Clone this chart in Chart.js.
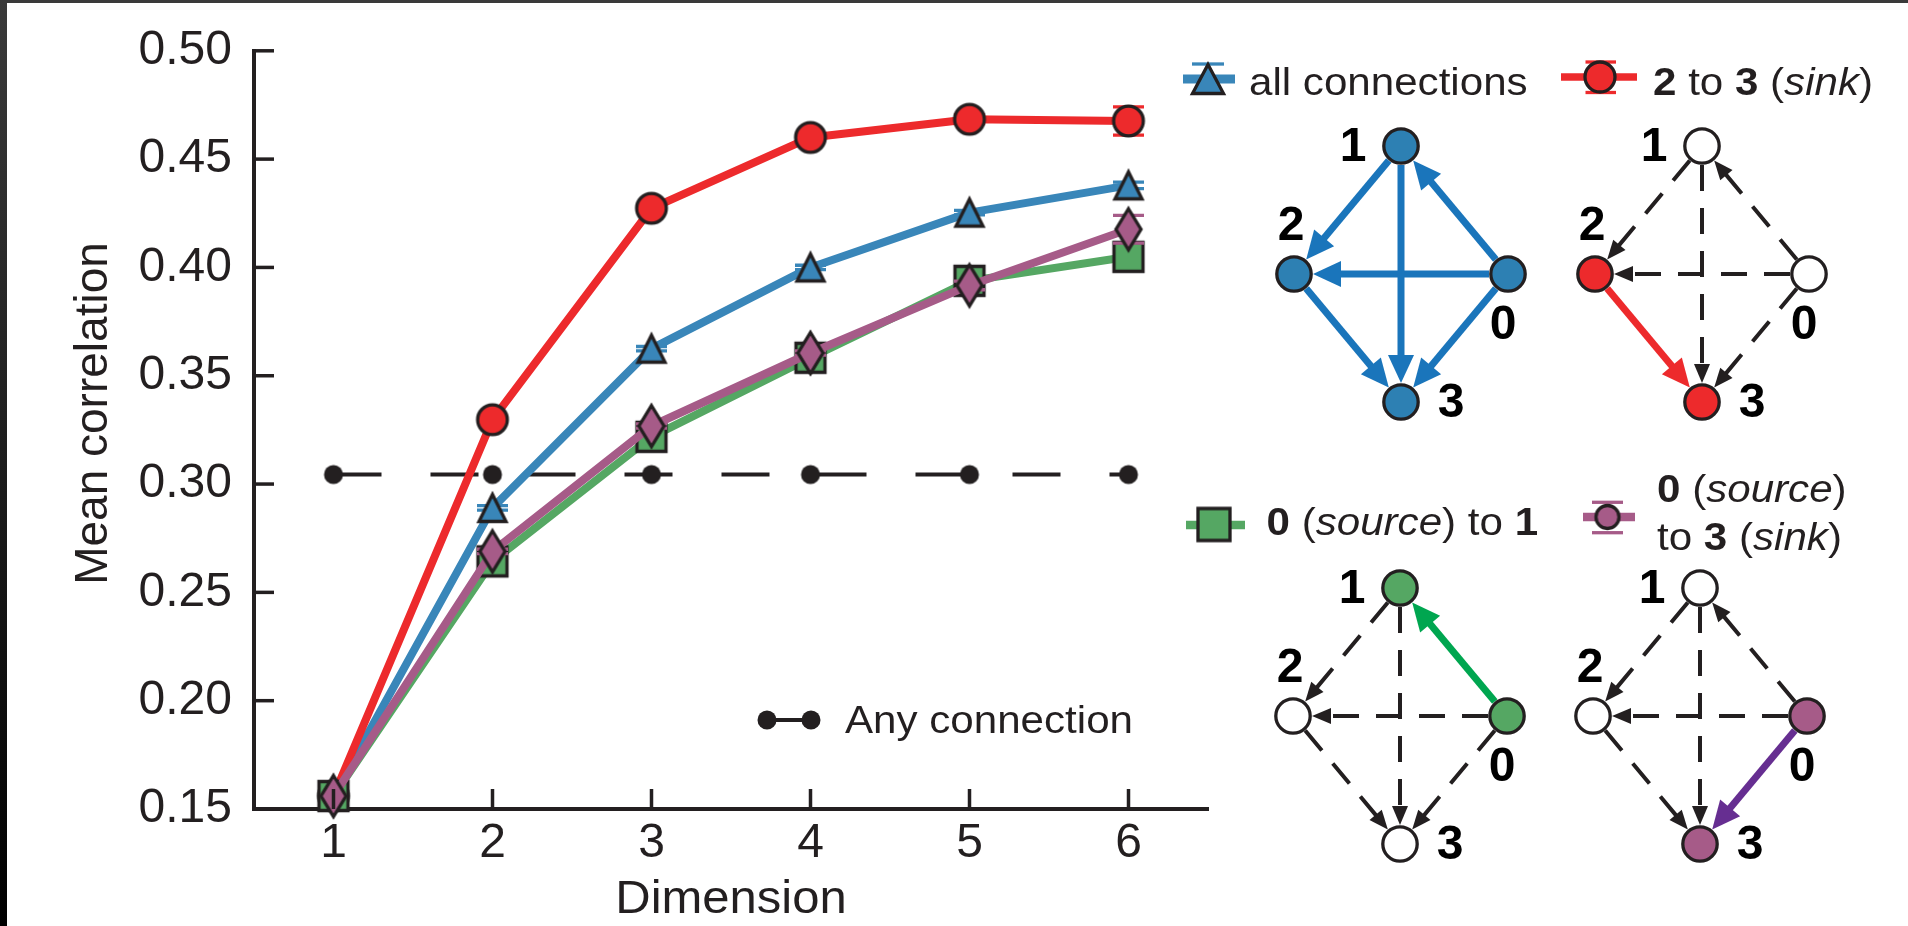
<!DOCTYPE html>
<html><head><meta charset="utf-8">
<script src="https://cdn.jsdelivr.net/npm/chart.js@4.4.1/dist/chart.umd.min.js"></script>
<style>
html,body{margin:0;padding:0;background:#fff;overflow:hidden;}
#wrap{position:relative;width:1908px;height:926px;background:#fff;}
canvas{display:block;}
#bt{position:absolute;left:0;top:0;width:1908px;height:3px;background:#3a3a3a;}
#bl{position:absolute;left:0;top:0;width:7px;height:926px;background:linear-gradient(#3a3a3a,#000);}
</style></head><body>
<div id="wrap"><canvas id="c" width="1908" height="926"></canvas><div id="bt"></div><div id="bl"></div></div>
<script>
// ---------------- data ----------------
const dimensions = [1, 2, 3, 4, 5, 6];
const allConnections = [0.156, 0.289, 0.3625, 0.400, 0.4253, 0.4379];
const allConnectionsErr = [0, 0.001, 0.001, 0.001, 0.001, 0.0015];
const sink23 = [0.156, 0.3297, 0.4273, 0.460, 0.4684, 0.4676];
const sink23Err = [0, 0.001, 0.001, 0.001, 0.002, 0.0065];
const source01 = [0.156, 0.2643, 0.3218, 0.3583, 0.3938, 0.4049];
const source01Err = [0, 0.001, 0.001, 0.001, 0.001, 0.002];
const source03 = [0.156, 0.2689, 0.3268, 0.3605, 0.3917, 0.4176];
const source03Err = [0, 0.001, 0.001, 0.001, 0.002, 0.0064];
const anyConnection = [0.3044, 0.3044, 0.3044, 0.3044, 0.3044, 0.3044];
const xTickValues = [1, 2, 3, 4, 5, 6];
const xTickLabels = ['1', '2', '3', '4', '5', '6'];
const yTickValues = [0.15, 0.20, 0.25, 0.30, 0.35, 0.40, 0.45, 0.50];
const yTickLabels = ['0.15', '0.20', '0.25', '0.30', '0.35', '0.40', '0.45', '0.50'];
const xTitle = 'Dimension';
const yTitle = 'Mean correlation';

// ---------------- styles ----------------
const FONT = '"Liberation Sans", Arial, Helvetica, sans-serif';
const INK = '#231f20';
const BLUE = '#3986b9', RED = '#ed2a2c', GREEN = '#55a763', PURPLE = '#a65b88';
const NODE_BLUE = '#2d80b3', EDGE_BLUE = '#1a75bb', EDGE_GREEN = '#00a650', EDGE_PURPLE = '#662e91';
const TEXT_STRETCH = 1.08;

function makeMarker(w, h, fn) {
  const c = document.createElement('canvas');
  c.width = w; c.height = h;
  const g = c.getContext('2d');
  g.translate(w / 2, h / 2);
  fn(g);
  return c;
}
function circleM(d, fill, lw) {
  return makeMarker(48, 48, g => {
    g.beginPath(); g.arc(0, 0, d / 2, 0, Math.PI * 2);
    g.fillStyle = fill; g.fill();
    g.lineWidth = lw; g.strokeStyle = INK; g.stroke();
  });
}
function polyM(pts, fill, lw, size) {
  return makeMarker(size, size, g => {
    g.beginPath(); pts.forEach((p, i) => i ? g.lineTo(p[0], p[1]) : g.moveTo(p[0], p[1]));
    g.closePath(); g.fillStyle = fill; g.fill();
    g.lineJoin = 'miter'; g.miterLimit = 10; g.lineWidth = lw; g.strokeStyle = INK; g.stroke();
  });
}
const triM = (w, h) => polyM([[0, -h / 2], [w / 2, h / 2], [-w / 2, h / 2]], BLUE, 3.3, 56);
const sqM = s => polyM([[-s / 2, -s / 2], [s / 2, -s / 2], [s / 2, s / 2], [-s / 2, s / 2]], GREEN, 3.3, 56);
const diaM = (w, h) => polyM([[0, -h / 2], [w / 2, 0], [0, h / 2], [-w / 2, 0]], PURPLE, 3.3, 60);
const dotM = makeMarker(24, 24, g => { g.beginPath(); g.arc(0, 0, 9.5, 0, Math.PI * 2); g.fillStyle = INK; g.fill(); });

const markerTri = triM(27, 27), markerCircle = circleM(29.7, RED, 3.3), markerSq = sqM(29), markerDia = diaM(25, 41);
const legTri = triM(31, 29), legCircle = circleM(30, RED, 3.3), legSq = sqM(32), legPurple = circleM(23, PURPLE, 3.3);

function series(label, vals, errs, color, marker, order, extra) {
  return Object.assign({
    label, data: dimensions.map((d, i) => ({ x: d, y: vals[i] })), errors: errs,
    borderColor: color, backgroundColor: color, borderWidth: 8, borderJoinStyle: 'round',
    pointStyle: marker, pointRadius: 16, tension: 0, clip: false, order
  }, extra || {});
}

// ---------------- plugins ----------------
const errorBars = {
  id: 'errorBars',
  beforeDatasetDraw(chart, args) {
    const ds = chart.data.datasets[args.index];
    if (!ds.errors) return;
    const xs = chart.scales.x, ys = chart.scales.y, g = chart.ctx;
    g.save(); g.strokeStyle = ds.borderColor; g.lineWidth = 3.3; g.setLineDash([]);
    ds.data.forEach((p, i) => {
      const e = ds.errors[i]; if (!e) return;
      const px = xs.getPixelForValue(p.x), y1 = ys.getPixelForValue(p.y + e), y2 = ys.getPixelForValue(p.y - e);
      g.beginPath();
      g.moveTo(px - 15.5, y1); g.lineTo(px + 15.5, y1);
      g.moveTo(px - 15.5, y2); g.lineTo(px + 15.5, y2);
      g.moveTo(px, y1); g.lineTo(px, y2);
      g.stroke();
    });
    g.restore();
  }
};

function rich(g, x, y, parts, size, sx) {
  g.save(); g.translate(x, y); g.scale(sx || TEXT_STRETCH, 1);
  let cx = 0;
  parts.forEach(([t, s]) => {
    g.font = (s === 'b' ? 'bold ' : s === 'i' ? 'italic ' : '') + size + 'px ' + FONT;
    g.fillText(t, cx, 0); cx += g.measureText(t).width;
  });
  g.restore();
}

const axisExtras = {
  id: 'axisExtras',
  afterDatasetsDraw(chart) {
    const g = chart.ctx, xs = chart.scales.x, ys = chart.scales.y, a = chart.chartArea;
    g.save(); g.strokeStyle = INK; g.lineWidth = 3.5; g.setLineDash([]);
    xTickValues.forEach(v => { const px = xs.getPixelForValue(v); g.beginPath(); g.moveTo(px, a.bottom); g.lineTo(px, a.bottom - 20); g.stroke(); });
    yTickValues.forEach(v => { const py = ys.getPixelForValue(v); g.beginPath(); g.moveTo(a.left, py); g.lineTo(a.left + 20, py); g.stroke(); });
    g.fillStyle = INK; g.textAlign = 'center'; g.textBaseline = 'alphabetic';
    g.font = '46px ' + FONT;
    g.save(); g.translate(107, 413.5); g.rotate(-Math.PI / 2); g.fillText(yTitle, 0, 0); g.restore();
    g.save(); g.translate((a.left + a.right) / 2, 913); g.scale(1.065, 1);
    g.font = '46px ' + FONT; g.fillText(xTitle, 0, 0); g.restore();
    g.restore();
  }
};

function img(g, c, x, y) { g.drawImage(c, x - c.width / 2, y - c.height / 2); }
function seg(g, x1, y1, x2, y2, color, lw) { g.beginPath(); g.strokeStyle = color; g.lineWidth = lw; g.moveTo(x1, y1); g.lineTo(x2, y2); g.stroke(); }

const netOrigins = [[1401, 146], [1702, 146], [1400, 588], [1700, 588]];
const nodeOffsets = { 0: [107, 128], 1: [0, 0], 2: [-107, 128], 3: [0, 256] };
const labelOffsets = { 0: [102, 179], 1: [-48, 1.5], 2: [-110, 80], 3: [50, 257] };
const netEdges = [[0, 1], [0, 2], [0, 3], [1, 2], [1, 3], [2, 3]];
const netSpecs = [
  { hi: 'all', edge: EDGE_BLUE, fill: { 0: NODE_BLUE, 1: NODE_BLUE, 2: NODE_BLUE, 3: NODE_BLUE } },
  { hi: [2, 3], edge: RED, fill: { 2: RED, 3: RED } },
  { hi: [0, 1], edge: EDGE_GREEN, fill: { 0: GREEN, 1: GREEN } },
  { hi: [0, 3], edge: EDGE_PURPLE, fill: { 0: PURPLE, 3: PURPLE } }
];
const NODE_R = 17.2, TIP_R = 19;

function arrow(g, x1, y1, x2, y2, color, lw, dash, headL, headW) {
  const dx = x2 - x1, dy = y2 - y1, L = Math.hypot(dx, dy), ux = dx / L, uy = dy / L;
  const tx = x2 - ux * TIP_R, ty = y2 - uy * TIP_R;
  const sx = x1 + ux * TIP_R, sy = y1 + uy * TIP_R;
  const bx = tx - ux * headL, by = ty - uy * headL;
  g.save();
  g.strokeStyle = color; g.lineWidth = lw; g.setLineDash(dash); g.lineDashOffset = 0;
  g.beginPath(); g.moveTo(sx, sy); g.lineTo(bx + ux * 2, by + uy * 2); g.stroke();
  g.setLineDash([]); g.fillStyle = color;
  g.beginPath(); g.moveTo(tx, ty);
  g.lineTo(bx - uy * headW / 2, by + ux * headW / 2);
  g.lineTo(bx + uy * headW / 2, by - ux * headW / 2);
  g.closePath(); g.fill();
  g.restore();
}

const sidePanel = {
  id: 'sidePanel',
  afterDraw(chart) {
    const g = chart.ctx;
    g.save(); g.setLineDash([]); g.textAlign = 'left'; g.textBaseline = 'alphabetic';
    // legend row 1
    seg(g, 1183, 79, 1235, 79, BLUE, 9);
    seg(g, 1192, 64, 1224, 64, BLUE, 3.3);
    img(g, legTri, 1208, 79);
    g.fillStyle = INK; rich(g, 1249, 95, [['all connections', 'n']], 39);
    seg(g, 1561, 77, 1637, 77, RED, 7.5);
    seg(g, 1585.5, 62, 1616, 62, RED, 3.3);
    seg(g, 1585.5, 92.5, 1616, 92.5, RED, 3.3);
    img(g, legCircle, 1600, 77);
    g.fillStyle = INK; rich(g, 1653, 95, [['2', 'b'], [' to ', 'n'], ['3', 'b'], [' (', 'n'], ['sink', 'i'], [')', 'n']], 39);
    // legend row 2
    seg(g, 1186, 525, 1245, 525, GREEN, 8.5);
    img(g, legSq, 1214, 524.5);
    g.fillStyle = INK; rich(g, 1266.5, 535, [['0', 'b'], [' (', 'n'], ['source', 'i'], [') to ', 'n'], ['1', 'b']], 39);
    seg(g, 1583, 517, 1635, 517, PURPLE, 8.5);
    seg(g, 1592, 502.3, 1623, 502.3, PURPLE, 3.3);
    seg(g, 1592, 532.7, 1623, 532.7, PURPLE, 3.3);
    img(g, legPurple, 1607.5, 517);
    g.fillStyle = INK;
    rich(g, 1657, 502, [['0', 'b'], [' (', 'n'], ['source', 'i'], [')', 'n']], 39);
    rich(g, 1657, 549.5, [['to ', 'n'], ['3', 'b'], [' (', 'n'], ['sink', 'i'], [')', 'n']], 39);
    // any connection legend
    seg(g, 767, 720, 811, 720, INK, 4);
    img(g, dotM, 767, 720); img(g, dotM, 811, 720);
    g.fillStyle = INK; rich(g, 845, 733, [['Any connection', 'n']], 39);
    // networks
    netSpecs.forEach((spec, k) => {
      const [ox, oy] = netOrigins[k];
      const pos = n => [ox + nodeOffsets[n][0], oy + nodeOffsets[n][1]];
      netEdges.forEach(([a, b]) => {
        const [x1, y1] = pos(a), [x2, y2] = pos(b);
        const hi = spec.hi === 'all' || (spec.hi[0] === a && spec.hi[1] === b);
        if (hi) arrow(g, x1, y1, x2, y2, spec.edge, 7, [], 28, 26);
        else arrow(g, x1, y1, x2, y2, INK, 4, [26, 17], 19, 16);
      });
      [0, 1, 2, 3].forEach(n => {
        const [x, y] = pos(n);
        g.beginPath(); g.arc(x, y, NODE_R, 0, Math.PI * 2);
        g.fillStyle = spec.fill[n] || '#ffffff'; g.fill();
        g.lineWidth = 3.3; g.strokeStyle = INK; g.stroke();
      });
      g.fillStyle = '#000'; g.font = 'bold 48px ' + FONT; g.textAlign = 'center'; g.textBaseline = 'middle';
      [0, 1, 2, 3].forEach(n => { g.fillText(String(n), ox + labelOffsets[n][0], oy + labelOffsets[n][1] + 0.5); });
      g.textAlign = 'left'; g.textBaseline = 'alphabetic';
    });
    g.restore();
  }
};

// ---------------- chart ----------------
new Chart(document.getElementById('c'), {
  type: 'line',
  data: {
    datasets: [
      series('0 (source) to 3 (sink)', source03, source03Err, PURPLE, markerDia, 0),
      series('0 (source) to 1', source01, source01Err, GREEN, markerSq, 1),
      series('2 to 3 (sink)', sink23, sink23Err, RED, markerCircle, 2),
      series('all connections', allConnections, allConnectionsErr, BLUE, markerTri, 3),
      series('Any connection', anyConnection, null, INK, dotM, 4, { borderWidth: 4, borderDash: [48, 49], borderJoinStyle: 'miter' })
    ]
  },
  options: {
    responsive: false, animation: false, devicePixelRatio: 1, events: [],
    layout: { padding: { left: 0, top: 42.5, right: 700, bottom: 0 } },
    plugins: { legend: { display: false }, tooltip: { enabled: false }, title: { display: false } },
    scales: {
      x: {
        type: 'linear', min: 0.5, max: 6.5,
        grid: { display: false, drawTicks: false },
        border: { display: true, width: 4, color: INK },
        ticks: { font: { family: FONT, size: 48 }, color: INK, padding: 6, autoSkip: false, maxRotation: 0,
          callback: (v, i) => xTickLabels[i] },
        afterBuildTicks: s => { s.ticks = xTickValues.map(v => ({ value: v })); },
        afterFit: s => { s.height = 117; }
      },
      y: {
        type: 'linear', min: 0.15, max: 0.50,
        grid: { display: false, drawTicks: false },
        border: { display: true, width: 4, color: INK },
        ticks: { font: { family: FONT, size: 48 }, color: INK, padding: 22, autoSkip: false,
          callback: (v, i) => yTickLabels[i] },
        afterBuildTicks: s => { s.ticks = yTickValues.map(v => ({ value: v })); },
        afterFit: s => { s.width = 254; }
      }
    }
  },
  plugins: [errorBars, axisExtras, sidePanel]
});
</script>
</body></html>
